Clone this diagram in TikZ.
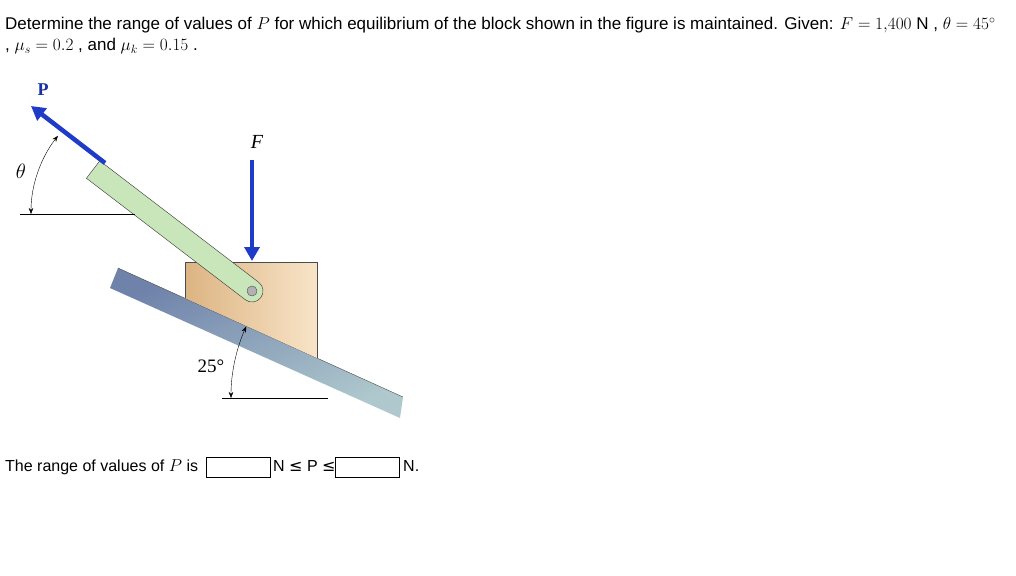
\documentclass[tikz,border=0pt]{standalone}
\usepackage{fontspec}
\setmainfont{Liberation Sans}
\newfontfamily\dejavu{DejaVu Sans}
\newfontfamily\serifx{Liberation Serif}
\usetikzlibrary{arrows.meta}
\definecolor{planeA}{RGB}{110,130,170}
\definecolor{planeB}{RGB}{175,200,205}
\definecolor{rodc}{RGB}{200,230,185}
\definecolor{blockA}{RGB}{220,180,130}
\definecolor{blockB}{RGB}{248,228,200}
\definecolor{arrowc}{RGB}{30,60,200}
\begin{document}
\begin{tikzpicture}[x=1pt,y=-1pt,
  txt/.style={anchor=base west,inner sep=0,font=\fontsize{16}{18}\selectfont},
  toptxt/.style={anchor=base west,inner sep=0,font=\fontsize{17}{19}\selectfont},
  blue arrow/.style={draw=arrowc,line width=4.5pt,-{Triangle[length=14pt,width=15pt]}},
  dimarc/.style={draw=black,thin,{Stealth[length=6pt]}-{Stealth[length=6pt]}},
  ansbox/.style={draw,minimum width=64pt,minimum height=20pt,inner sep=0}]
\useasboundingbox (0,0) rectangle (1016,575);
% text
\node[toptxt] (t1) at (5,30) {Determine the range of values of $P$ for which equilibrium of the block shown in the figure is maintained. Given: $F=1{,}400$~N , $\theta=45^\circ$};
\node[toptxt] (t2) at (5,51) {, $\mu_s=0.2$ , and $\mu_k=0.15$ .};
% plane
\path[shade,top color=planeA,bottom color=planeB,shading angle=24] (118,268) -- (403,397) -- (400,418) -- (110,288) -- cycle;
\draw[thin,black!70] (118,268) -- (403,397);
% block
\path[left color=blockA,right color=blockB] (185,262) -- (317,262) -- (317,358) -- (185,298) -- cycle;
\draw[black!70] (185,298) -- (185,262) -- (317,262) -- (317,358);
% rod
\begin{scope}[shift={(252,291)},rotate=142.6]
  \draw[fill=rodc,draw=black!80] (0,-11) -- (200,-11) -- (200,11) -- (0,11) arc (90:270:11) -- cycle;
  \fill[gray!60] (0,0) circle (5);
  \draw[black!70] (0,0) circle (5);
\end{scope}
% P arrow
\coordinate (pa) at (105,163);
\coordinate (pb) at (31,106);
\draw[blue arrow] (pa) -- (pb);
\node[font=\serifx\bfseries\fontsize{18}{20}\selectfont,text=arrowc!80!black] (Plab) at (43,90) {P};
% F arrow
\coordinate (fa) at (252,160);
\coordinate (fb) at (252,261);
\draw[blue arrow] (fa) -- (fb);
\node[font=\serifx\itshape\fontsize{20}{22}\selectfont] (Flab) at (257,142) {F};
% theta
\coordinate (h1) at (20,214);
\coordinate (h2) at (135,214);
\draw (h1) -- (h2);
\draw[dimarc] (31,214) arc (180:218:127);
\node[font=\fontsize{20}{22}\selectfont] (th) at (21,171) {$\theta$};
% 25 deg
\coordinate (g1) at (222,398);
\coordinate (g2) at (328,398);
\draw (g1) -- (g2);
\draw[dimarc] (231,398) arc (180:204:176);
\node[font=\serifx\fontsize{19}{20}\selectfont] (ang) at (211,366) {25°};
% answer line
\node[txt] (t3) at (5,471) {The range of values of $P$ is};
\node[ansbox] (b1) at (238,467) {};
\node[txt] (t4) at (273,471) {N {\dejavu ≤} P {\dejavu ≤}};
\node[ansbox] (b2) at (367,467) {};
\node[txt] (t5) at (403,471) {N.};
\end{tikzpicture}
\end{document}
